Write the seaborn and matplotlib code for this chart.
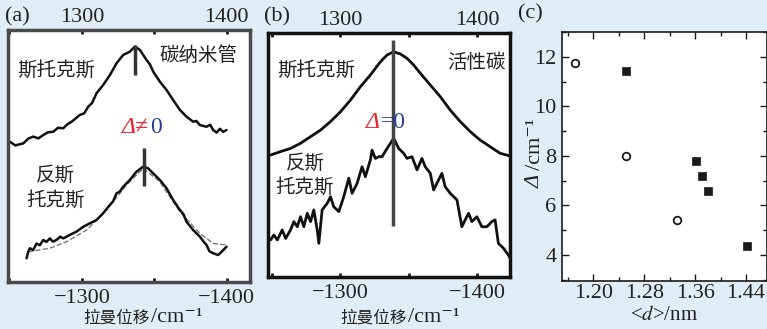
import numpy as np
import pandas as pd
import matplotlib
matplotlib.use("Agg")
import matplotlib.pyplot as plt
import seaborn as sns
from matplotlib.ticker import MultipleLocator

# ------------------------------
# data
# ------------------------------

# (a) carbon nanotubes: Stokes / anti-Stokes spectra (shift in cm^-1, intensity a.u.)
a_stokes_x = [1250.3, 1254.0, 1259.5, 1263.0, 1266.4, 1270.0, 1273.3, 1276.5, 1280.2, 1283.5,
              1287.1, 1290.0, 1292.9, 1298.6, 1301.5, 1304.4, 1307.0, 1310.1, 1314.7, 1319.3,
              1323.9, 1328.5, 1333.1, 1336.6, 1340.0, 1344.6, 1347.0, 1349.2, 1353.8, 1358.4,
              1363.0, 1367.6, 1372.2, 1376.8, 1379.0, 1381.4, 1386.0, 1388.5, 1390.6, 1393.0,
              1395.2, 1397.5, 1399.8]
a_stokes_y = [55.7, 54.2, 55.0, 56.9, 57.7, 57.0, 58.3, 59.4, 59.6, 61.2,
              61.0, 62.6, 63.6, 66.3, 66.9, 69.6, 71.0, 74.9, 78.2, 82.1,
              86.8, 90.1, 91.4, 93.4, 92.1, 88.1, 86.3, 83.5, 79.5, 76.2,
              72.2, 68.3, 65.6, 63.6, 63.9, 62.3, 61.6, 62.4, 60.3, 59.3,
              60.8, 59.6, 60.3]

a_anti_x = [1261.8, 1263.0, 1264.1, 1266.4, 1268.7, 1271.0, 1273.3, 1275.5, 1277.9, 1280.0,
            1282.5, 1285.0, 1287.1, 1291.7, 1296.3, 1300.9, 1305.5, 1310.1, 1314.7, 1319.3,
            1321.5, 1323.9, 1326.0, 1328.5, 1333.1, 1337.7, 1342.3, 1345.7, 1349.2, 1353.8,
            1358.4, 1363.0, 1367.6, 1370.0, 1372.2, 1376.8, 1381.4, 1384.0, 1386.0, 1388.0,
            1390.6, 1394.0, 1396.4, 1399.8]
a_anti_y = [9.4, 12.0, 13.4, 12.7, 15.3, 14.6, 16.7, 15.9, 17.3, 16.0,
            16.7, 18.0, 17.3, 18.7, 20.0, 21.9, 23.3, 24.6, 27.3, 30.6,
            32.0, 35.2, 35.8, 37.8, 40.5, 43.8, 45.8, 45.1, 43.1, 40.5,
            37.2, 32.5, 28.6, 27.0, 23.9, 20.6, 18.0, 16.0, 14.7, 12.2,
            11.4, 10.7, 12.0, 14.0]

a_fit_x = [1262.9, 1277.9, 1289.4, 1303.2, 1317.0, 1330.8, 1342.3, 1353.8, 1367.6, 1381.4, 1390.6, 1399.8]
a_fit_y = [12.0, 13.4, 16.0, 20.6, 28.6, 38.5, 45.1, 39.8, 27.9, 19.3, 15.3, 14.7]

# (b) activated carbon
b_stokes_x = [1248.9, 1256.2, 1263.5, 1270.8, 1278.1, 1285.4, 1292.7, 1300.0, 1307.3, 1314.6,
              1321.9, 1329.2, 1334.1, 1338.9, 1343.8, 1348.7, 1353.5, 1358.4, 1365.7, 1373.0,
              1380.3, 1387.6, 1394.9, 1402.2, 1409.5, 1416.8, 1424.1]
b_stokes_y = [50.0, 51.4, 52.7, 54.8, 57.5, 60.2, 63.7, 67.7, 72.5, 78.0,
              82.8, 88.2, 91.0, 92.3, 91.4, 89.6, 86.9, 83.5, 78.7, 73.9,
              68.4, 63.7, 59.6, 56.1, 53.4, 50.7, 49.6]

b_anti_x = [1248.9, 1251.3, 1253.8, 1257.4, 1259.9, 1263.5, 1265.9, 1268.4, 1270.8, 1273.2,
            1275.7, 1278.1, 1280.5, 1283.0, 1284.2, 1286.6, 1290.3, 1292.7, 1295.1, 1298.8,
            1302.4, 1306.1, 1308.5, 1312.2, 1315.8, 1318.2, 1321.9, 1323.1, 1325.5, 1328.0,
            1330.4, 1334.1, 1338.9, 1342.6, 1346.2, 1348.7, 1352.3, 1356.0, 1359.6, 1362.0,
            1365.7, 1368.1, 1371.8, 1374.2, 1376.6, 1380.3, 1385.2, 1388.8, 1391.2, 1393.7,
            1396.1, 1399.8, 1403.4, 1407.1, 1410.7, 1413.1, 1415.5, 1419.2, 1422.8, 1424.1]
b_anti_y = [15.2, 17.2, 15.2, 19.3, 15.8, 19.3, 22.7, 20.6, 24.7, 20.6,
            26.1, 22.7, 27.5, 19.3, 13.8, 27.5, 30.2, 32.9, 28.8, 26.8,
            32.9, 40.5, 34.3, 38.4, 45.2, 41.1, 48.0, 52.0, 48.6, 49.3,
            49.3, 52.7, 56.8, 52.7, 50.7, 48.6, 49.3, 43.9, 48.6, 45.2,
            42.5, 35.7, 39.8, 42.5, 37.0, 34.3, 31.6, 20.6, 23.4, 26.1,
            22.7, 24.7, 20.6, 20.6, 22.7, 23.4, 13.8, 11.8, 9.0, 7.7]

# peak markers
a_peak_stokes = 1336.6
a_peak_anti = 1342.8
b_peak = 1338.7

# (c) Delta vs mean diameter
circ_d = [1.171, 1.251, 1.331]
circ_delta = [11.73, 8.0, 5.4]
sq_d = [1.251, 1.361, 1.371, 1.381, 1.441]
sq_delta = [11.42, 7.8, 7.19, 6.6, 4.38]

# ------------------------------
# styling
# ------------------------------
sns.set_theme(style="ticks")
plt.rcParams["font.family"] = ["Liberation Serif", "Noto Sans CJK SC", "DejaVu Serif"]
plt.rcParams["mathtext.fontset"] = "stix"

BG = "#e1edf6"
RED = "#e8212b"
BLUE = "#2b3c9c"
TXT = "#222222"
CJK = ["Noto Sans CJK SC", "DejaVu Sans"]
W, H = 767, 329

fig = plt.figure(figsize=(W / 100, H / 100), dpi=100, facecolor=BG)


def box(l, t, r, b):
    return [l / W, 1 - b / H, (r - l) / W, (b - t) / H]


def fx(px):
    return px / W


def fy(py):
    return 1 - py / H


ax_a = fig.add_axes(box(8, 30, 250, 282))
ax_b = fig.add_axes(box(268, 33, 510, 277))
ax_c = fig.add_axes(box(562, 32, 767, 281))


def spectrum_axes(ax, xlim, frame_col, frame_lw):
    ax.set_facecolor("white")
    ax.set_xlim(*xlim)
    ax.set_ylim(0, 100)
    ax.set_yticks([])
    for s in ax.spines.values():
        s.set_color(frame_col)
        s.set_linewidth(frame_lw)
    ax.set_xticks([1300, 1400])
    ax.set_xticklabels(["\u22121300", "\u22121400"])
    ax.xaxis.set_minor_locator(MultipleLocator(50))
    ax.tick_params(axis="x", which="both", direction="in", length=3, width=2,
                   color="k", labelsize=16, labelcolor=TXT, pad=5)
    sec = ax.secondary_xaxis("top")
    sec.set_xticks([1300, 1400])
    sec.set_xticklabels(["1300", "1400"])
    sec.xaxis.set_minor_locator(MultipleLocator(50))
    sec.tick_params(axis="x", which="both", direction="in", length=3, width=2,
                    color="k", labelsize=16, labelcolor=TXT, pad=2)
    sec.spines["top"].set_visible(False)
    ax.set_xlabel("")
    ax.set_ylabel("")


def cjk(ax, x, y, s):
    ax.text(x, y, s, transform=ax.transAxes, family=CJK, fontsize=14,
            ha="center", va="center", color=TXT)


# ---- (a)
spectrum_axes(ax_a, (1249, 1416), "#4a4a4a", 2.5)
sns.lineplot(x=a_fit_x, y=a_fit_y, ax=ax_a, color="#777777", lw=1.0, ls="--")
sns.lineplot(x=a_stokes_x, y=a_stokes_y, ax=ax_a, color="#111111", lw=1.8)
sns.lineplot(x=a_anti_x, y=a_anti_y, ax=ax_a, color="#111111", lw=1.8)
ax_a.vlines(a_peak_stokes, 82, 94, color="#333333", lw=2.5)
ax_a.vlines(a_peak_anti, 38, 53, color="#333333", lw=2.5)
cjk(ax_a, 0.20, 0.84, "斯托克斯")
cjk(ax_a, 0.785, 0.90, "碳纳米管")
cjk(ax_a, 0.194, 0.425, "反斯")
cjk(ax_a, 0.198, 0.325, "托克斯")
ax_a.text(0.583, 0.615, "\u0394\u2260", transform=ax_a.transAxes, style="italic",
          fontsize=17, ha="right", va="center", color=RED)
ax_a.text(0.587, 0.615, "0", transform=ax_a.transAxes,
          fontsize=17, ha="left", va="center", color=BLUE)

# ---- (b)
spectrum_axes(ax_b, (1247, 1424), "#111111", 2.5)
sns.lineplot(x=b_stokes_x, y=b_stokes_y, ax=ax_b, color="#111111", lw=2.0)
sns.lineplot(x=b_anti_x, y=b_anti_y, ax=ax_b, color="#111111", lw=2.0)
ax_b.vlines(b_peak, 21, 97, color="#444444", lw=2.5)
cjk(ax_b, 0.198, 0.848, "斯托克斯")
cjk(ax_b, 0.86, 0.88, "活性碳")
cjk(ax_b, 0.153, 0.467, "反斯")
cjk(ax_b, 0.153, 0.369, "托克斯")
ax_b.text(0.463, 0.635, "\u0394", transform=ax_b.transAxes, style="italic",
          fontsize=17, ha="right", va="center", color=RED)
ax_b.text(0.465, 0.635, "=0", transform=ax_b.transAxes,
          fontsize=17, ha="left", va="center", color=BLUE)

# x labels under (a) and (b): CJK part smaller than the Latin part
for xb in (150, 407):
    fig.text(fx(xb), fy(318), "拉曼位移", family=CJK, fontsize=12,
             ha="right", va="center", color=TXT)
    fig.text(fx(xb + 1), fy(317), "/cm\u207b\u00b9", fontsize=16,
             ha="left", va="center", color=TXT)

# ---- (c)
ax_c.set_facecolor("white")
sns.scatterplot(x=circ_d, y=circ_delta, ax=ax_c, marker="o", s=30,
                facecolor="white", edgecolor="k", linewidth=1.3, zorder=3)
sns.scatterplot(x=sq_d, y=sq_delta, ax=ax_c, marker="s", s=30,
                color="k", edgecolor="k", linewidth=0.5, zorder=3)
ax_c.set_xlim(1.151, 1.473)
ax_c.set_ylim(2.95, 13.0)
ax_c.set_xticks([1.20, 1.28, 1.36, 1.44])
ax_c.set_xticklabels(["1.20", "1.28", "1.36", "1.44"])
ax_c.set_yticks([4, 6, 8, 10, 12])
ax_c.xaxis.set_minor_locator(MultipleLocator(0.04))
ax_c.yaxis.set_minor_locator(MultipleLocator(1))
ax_c.tick_params(which="both", direction="in", top=True, right=True,
                 color="k", labelsize=16, labelcolor=TXT)
ax_c.tick_params(axis="x", pad=2)
ax_c.tick_params(axis="y", pad=4)
ax_c.tick_params(which="major", length=5, width=1)
ax_c.tick_params(which="minor", length=3, width=1)
for s in ax_c.spines.values():
    s.set_color("k")
    s.set_linewidth(1.2)
ax_c.set_xlabel("")
ax_c.set_ylabel("")
# axis labels of (c), placed where the reference has them
fig.text(fx(664), fy(315), r"<$\mathit{d}$>/nm", fontsize=15,
         ha="center", va="center", color=TXT)
fig.text(fx(535), fy(188), "\u0394", style="italic", rotation=90, fontsize=16,
         ha="center", va="bottom", color=TXT)
fig.text(fx(535), fy(170), "/cm\u207b\u00b9", rotation=90, fontsize=16,
         ha="center", va="bottom", color=TXT)

# panel letters
fig.text(fx(17), fy(17), "(a)", fontsize=16, ha="center", va="center", color=TXT)
fig.text(fx(277), fy(17), "(b)", fontsize=16, ha="center", va="center", color=TXT)
fig.text(fx(530), fy(14), "(c)", fontsize=16, ha="center", va="center", color=TXT)

fig.savefig("out.png", dpi=100, facecolor=BG)
